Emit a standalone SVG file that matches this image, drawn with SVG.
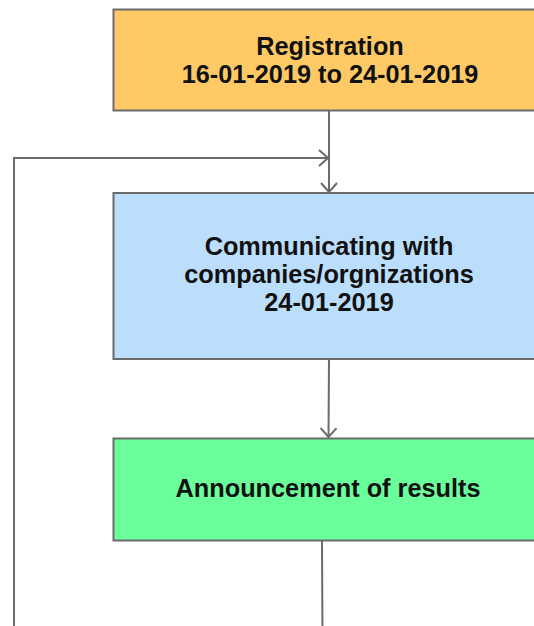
<svg xmlns="http://www.w3.org/2000/svg" width="534" height="626" viewBox="0 0 534 626">
<defs>
<style>
.box{stroke:#6b6b6b;stroke-width:2}
.t{font-family:"Liberation Sans",Arial,sans-serif;font-weight:bold;font-size:25.3px;fill:#111;text-anchor:middle}
.c{fill:none;stroke:#6b6b6b;stroke-width:2}
</style>
<marker id="arr" viewBox="0 0 12 18" refX="11" refY="9" markerWidth="12" markerHeight="18" markerUnits="userSpaceOnUse" orient="auto">
<polyline points="2,1 11,9 2,17" fill="none" stroke="#6b6b6b" stroke-width="2"/>
</marker>
</defs>
<rect width="534" height="626" fill="#ffffff"/>
<g id="connectors">
<path class="c" d="M329,111 L329,192" marker-end="url(#arr)"/>
<path class="c" d="M14,640 L14,158 L328,158" marker-end="url(#arr)"/>
<path class="c" d="M329,359 L328.5,437" marker-end="url(#arr)"/>
<path class="c" d="M322,541 L322.5,640"/>
</g>
<g id="registration">
<rect class="box" x="113.5" y="9.5" width="440" height="101" fill="#ffca66"/>
<text class="t" x="330" y="55">Registration</text>
<text class="t" x="330" y="83">16-01-2019 to 24-01-2019</text>
</g>
<g id="communicating">
<rect class="box" x="113.5" y="193" width="440" height="166" fill="#bbdefc"/>
<text class="t" x="329" y="255">Communicating with</text>
<text class="t" x="329" y="283">companies/orgnizations</text>
<text class="t" x="329" y="311">24-01-2019</text>
</g>
<g id="announcement">
<rect class="box" x="113.5" y="438.5" width="440" height="102" fill="#6aff9a"/>
<text class="t" x="328" y="497">Announcement of results</text>
</g>
</svg>
